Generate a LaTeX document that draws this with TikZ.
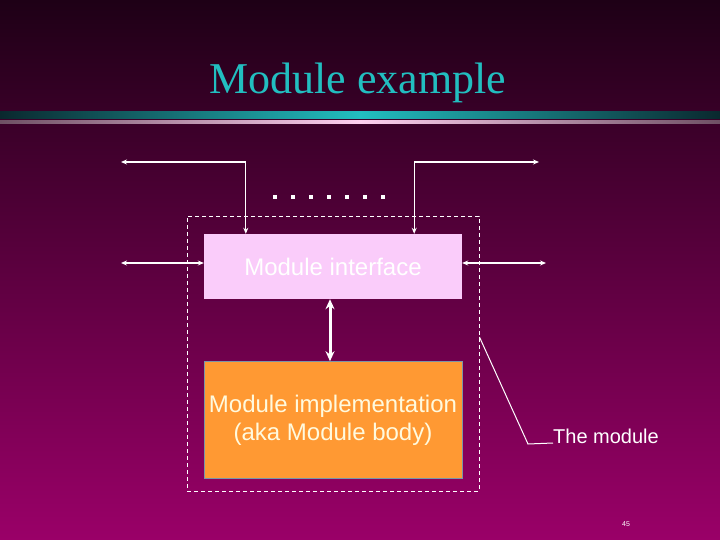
\documentclass[tikz,border=0pt]{standalone}
\usepackage{fontspec}
\setmainfont{Liberation Sans}
\newfontfamily\titlefont{Liberation Serif}
\usetikzlibrary{arrows.meta}
\usetikzlibrary{positioning}
\definecolor{bgtop}{RGB}{30,0,22}
\definecolor{bgbot}{RGB}{154,0,104}
\definecolor{titlecyan}{RGB}{34,190,192}
\definecolor{bardark}{RGB}{10,40,46}
\definecolor{barpinkend}{RGB}{110,80,100}
\definecolor{barpink}{RGB}{255,208,240}
\definecolor{intfpink}{RGB}{250,204,250}
\definecolor{implorange}{RGB}{255,153,51}
\definecolor{implborder}{RGB}{122,150,168}
\definecolor{impltext}{RGB}{255,250,222}
\tikzset{
  wire/.style={draw=white, line width=1.3pt, {Stealth[length=6pt,width=5pt]}-{Stealth[length=6pt,width=5pt]}},
  bigwire/.style={draw=white, line width=3pt, {Stealth[length=10pt,width=9pt]}-{Stealth[length=10pt,width=9pt]}},
  intfbox/.style={fill=intfpink, draw=none, inner sep=0pt, minimum width=258pt, minimum height=65pt, text=white, font=\fontsize{24}{28}\selectfont},
  implbox/.style={fill=implorange, draw=implborder, line width=1pt, inner sep=0pt, minimum width=258pt, minimum height=117pt, text=impltext, align=center, font=\fontsize{24}{28}\selectfont},
}
\begin{document}
\begin{tikzpicture}[x=1pt,y=-1pt]
        % background
        \useasboundingbox (0,0) rectangle (720,540);
        \shade[top color=bgtop, bottom color=bgbot] (0,0) rectangle (720,540);

        % title and bars
        \node[anchor=base, text=titlecyan, font=\titlefont\fontsize{44}{48}\selectfont] (title) at (358,94) {Module example};
        \shade[left color=bardark, right color=bardark, middle color=titlecyan] (0,112) rectangle (720,119);
        \shade[left color=barpinkend, right color=barpinkend, middle color=barpink] (0,121) rectangle (720,124);

        % the module (dashed)
        \node[draw=white, dashed, dash pattern=on 4pt off 3pt, line width=0.9pt, minimum width=292pt, minimum height=275pt, inner sep=0pt] (module) at (333,353.5) {};

        % boxes
        \node[intfbox] (intf) at (333,266.5) {Module interface};
        \node[implbox, below=62pt of intf] (impl) {Module implementation\\(aka Module body)};

        % dots
        \foreach \i in {0,...,6}
            \fill[white] (272.5+18*\i,195) rectangle +(4.3,4.3);

        % free ends
        \coordinate (tl) at (121,162);
        \coordinate (tr) at (539,162);
        \coordinate (ml) at (121,263);
        \coordinate (mr) at (546,263);

        % connectors
        \draw[wire] (tl) -| ([xshift=42pt]intf.north west);
        \draw[wire] ([xshift=-48pt]intf.north east) |- (tr);
        \draw[wire] (ml) -- (ml -| intf.west);
        \draw[wire] (mr -| intf.east) -- (mr);
        \draw[bigwire] ([xshift=-3pt]intf.south) -- ([xshift=-3pt]impl.north);

        % label
        \node[anchor=base west, text=white, font=\fontsize{20}{24}\selectfont, inner sep=0pt] (lbl) at (553,443) {The module};
        \coordinate (cm) at (module.east |- 0,337);
        \draw[white, line width=1pt] (cm) -- (528,444) -- (lbl.base west);

        % page number
        \node[text=white, font=\fontsize{7}{8}\selectfont] (page) at (626,524) {45};
\end{tikzpicture}
\end{document}
